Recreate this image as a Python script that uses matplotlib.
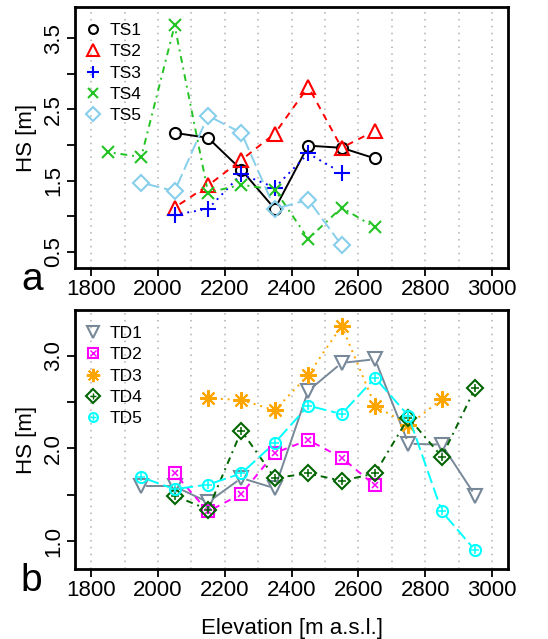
import numpy as np
import matplotlib
matplotlib.use("Agg")
import matplotlib.pyplot as plt
from matplotlib.lines import Line2D

plt.rcParams['font.family'] = ['Liberation Sans', 'DejaVu Sans']

# Datos panel a (TS)
elev_ts = [1850, 1950, 2050, 2150, 2250, 2350, 2450, 2550, 2650]
ts1 = [np.nan, np.nan, 2.17, 2.10, 1.65, 1.10, 1.99, 1.96, 1.81]
ts2 = [np.nan, np.nan, 1.12, 1.43, 1.79, 2.16, 2.82, 1.96, 2.20]
ts3 = [np.nan, np.nan, 1.02, 1.10, 1.59, 1.40, 1.88, 1.61, np.nan]
ts4 = [1.90, 1.83, 3.68, 1.33, 1.44, 1.37, 0.68, 1.12, 0.84]
ts5 = [np.nan, 1.47, 1.35, 2.41, 2.17, 1.10, 1.23, 0.59, np.nan]

# Datos panel b (TD)
elev_td = [1950, 2050, 2150, 2250, 2350, 2450, 2550, 2650, 2750, 2850, 2950]
td1 = [1.59, 1.59, 1.42, 1.68, 1.57, 2.62, 2.92, 2.96, 2.05, 2.04, 1.49]
td2 = [np.nan, 1.73, 1.32, 1.51, 1.95, 2.09, 1.90, 1.60, np.nan, np.nan, np.nan]
td3 = [np.nan, np.nan, 2.54, 2.52, 2.41, 2.79, 3.32, 2.46, 2.25, 2.53, np.nan]
td4 = [np.nan, 1.49, 1.34, 2.19, 1.68, 1.73, 1.65, 1.73, 2.33, 1.91, 2.65]
td5 = [1.69, 1.56, 1.61, 1.73, 2.06, 2.46, 2.37, 2.76, 2.35, 1.32, 0.90]

lty = {'solid': '-', 'dashed': (0, (3.5, 3)), 'dotted': (0, (1, 2.5)),
       'dotdash': (0, (1, 2.5, 3.5, 2.5)), 'longdash': (0, (6.5, 2.5))}

# estilo de cada serie: (nombre, datos, color, linea, marcadores)
estilo_ts = [
    ('TS1', ts1, 'black', 'solid', ['o']),
    ('TS2', ts2, 'red', 'dashed', ['^']),
    ('TS3', ts3, 'blue', 'dotted', ['+']),
    ('TS4', ts4, '#22c322', 'dotdash', ['x']),
    ('TS5', ts5, '#87ceeb', 'longdash', ['D']),
]
estilo_td = [
    ('TD1', td1, '#778899', 'solid', ['v']),
    ('TD2', td2, 'magenta', 'dashed', ['s', 'x']),
    ('TD3', td3, 'orange', 'dotted', [(8, 2, 0)]),
    ('TD4', td4, '#006400', 'dotdash', ['D', '+']),
    ('TD5', td5, 'cyan', 'longdash', ['o', '+']),
]
tam = {'o': 8, '^': 10, '+': 11, 'x': 9, 'D': 8.5, 'v': 10, 's': 8.5,
       (8, 2, 0): 12}
tam_sub = {'x': 5, '+': 6}


def linea_b(ax, x, y, color, ls, gap=6):
    # lineas con hueco alrededor de los puntos (como type="b" en R)
    x = np.asarray(x, float)
    y = np.asarray(y, float)
    ok = ~np.isnan(y)
    pts = ax.transData.transform(np.column_stack([x[ok], y[ok]]))
    inv = ax.transData.inverted()
    for p0, p1 in zip(pts[:-1], pts[1:]):
        d = p1 - p0
        largo = np.hypot(*d)
        if largo <= 2 * gap:
            continue
        u = d / largo
        a = inv.transform(p0 + u * gap)
        b = inv.transform(p1 - u * gap)
        ax.plot([a[0], b[0]], [a[1], b[1]], color=color, ls=lty[ls], lw=1.4)


def marcas(ax, x, y, color, mks, escala=1.0):
    for i, m in enumerate(mks):
        ms = (tam[m] if i == 0 else tam_sub[m]) * escala
        ax.plot(x, y, ls='none', marker=m, ms=ms, mfc='none',
                mec=color, mew=1.5 if i == 0 else 1.1)


def panel(ax, elev, estilos, ylim, yticks, ylabels, letra):
    ax.set_xlim(1752, 3048)
    ax.set_ylim(*ylim)
    for xv in range(1800, 3001, 100):
        ax.axvline(xv, color='#b0b0b0', ls=(0, (1, 3.5)), lw=1.1, zorder=0)
    handles = []
    for nombre, datos, color, ls, mks in estilos:
        linea_b(ax, elev, datos, color, ls)
        marcas(ax, elev, datos, color, mks)
        hl = [Line2D([], [], ls='none', marker=m,
                     ms=(tam[m] if i == 0 else tam_sub[m]) * 0.8,
                     mfc='none', mec=color, mew=1.5 if i == 0 else 1.0)
              for i, m in enumerate(mks)]
        handles.append(tuple(hl))
    ax.legend(handles, [e[0] for e in estilos], loc='upper left',
              frameon=False, fontsize=12.5, handletextpad=0.35,
              labelspacing=0.35, borderaxespad=0.3, handlelength=1.2,
              bbox_to_anchor=(-0.01, 0.985))
    ax.set_xticks(range(1800, 3001, 200))
    ax.set_yticks(yticks)
    ax.set_yticklabels(ylabels, rotation=90, va='center')
    ax.tick_params(labelsize=16, length=6, width=1.3, direction='out',
                   pad=2)
    for s in ax.spines.values():
        s.set_linewidth(2)
    ax.set_ylabel('HS [m]', fontsize=16, labelpad=4)
    ax.text(-0.10, -0.045, letra, transform=ax.transAxes, fontsize=28,
            ha='center', va='center')


fig = plt.figure(figsize=(5.48, 6.39), dpi=100)
ax1 = fig.add_axes([0.137, 0.5806, 0.790, 0.4085])
ax2 = fig.add_axes([0.137, 0.1095, 0.790, 0.4053])

panel(ax1, elev_ts, estilo_ts, (0.27, 3.94),
      [0.5, 1.0, 1.5, 2.0, 2.5, 3.0, 3.5],
      ['0.5', '', '1.5', '', '2.5', '', '3.5'], 'a')
panel(ax2, elev_td, estilo_td, (0.70, 3.49),
      [1.0, 1.5, 2.0, 2.5, 3.0],
      ['1.0', '', '2.0', '', '3.0'], 'b')
ax2.set_xlabel('Elevation [m a.s.l.]', fontsize=16, labelpad=12)

fig.savefig('out.png', dpi=100)
